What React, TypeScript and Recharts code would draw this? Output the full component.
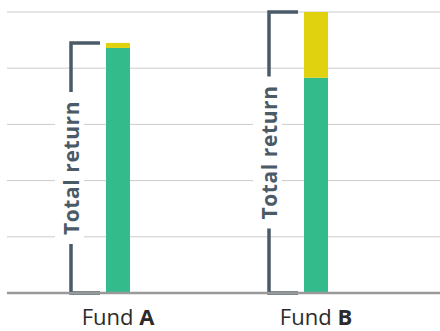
import { BarChart, Bar, XAxis, YAxis, CartesianGrid, ReferenceLine } from 'recharts'

const funds = ['Fund A', 'Fund B']
const fundLetters = ['A', 'B']
const baseReturn = [4.36, 3.83]
const extraReturn = [0.09, 1.17]
const yTicks = [0, 1, 2, 3, 4, 5]
const bracketLabel = 'Total return'

const data = funds.map((fund, i) => ({
  fund,
  base: baseReturn[i],
  extra: extraReturn[i],
  total: baseReturn[i] + extraReturn[i],
}))

const SLATE = '#4a5b67'
const FONT = '"Open Sans", sans-serif'

// bracket drawn to the left of the bar, from the baseline up to the total
function Bracket(props: any) {
  const { x1, y1, y2 } = props
  const top = Math.min(y1, y2)
  const bottom = Math.max(y1, y2)
  const lx = x1 - 47
  const arm = x1 - 18
  const cy = (top + bottom) / 2
  const gap = 76
  return (
    <g>
      <rect x={lx - 16} y={cy - 70} width={29} height={140} fill="#fff" />
      <path
        d={`M${arm},${top} H${lx} V${cy - gap}`}
        stroke={SLATE}
        strokeWidth={3.5}
        fill="none"
        strokeLinejoin="miter"
      />
      <path
        d={`M${arm},${bottom} H${lx} V${cy + gap}`}
        stroke={SLATE}
        strokeWidth={3.5}
        fill="none"
        strokeLinejoin="miter"
      />
      <text
        transform={`translate(${lx},${cy}) rotate(-90)`}
        textAnchor="middle"
        dy="0.36em"
        fontSize={21}
        fontWeight={700}
        letterSpacing={0.6}
        fill={SLATE}
        fontFamily={FONT}
      >
        {bracketLabel}
      </text>
    </g>
  )
}

function FundTick({ x, y, payload }: any) {
  const i = funds.indexOf(payload.value)
  return (
    <text x={x} y={y} dy={24} textAnchor="middle" fontSize={22} fill="#2b2b2b" fontFamily={FONT}>
      Fund{' '}
      <tspan fontWeight={700}>{fundLetters[i]}</tspan>
    </text>
  )
}

export default function App() {
  return (
    <div style={{ width: 440, height: 331 }}>
      <style>{'body{margin:0}'}</style>
      <BarChart width={440} height={331} data={data} margin={{ top: 12, right: 0, bottom: 0, left: 7 }}>
        <CartesianGrid vertical={false} stroke="#cccccc" />
        <XAxis
          dataKey="fund"
          height={38}
          padding={{ left: 12, right: 25 }}
          tickLine={false}
          axisLine={{ stroke: '#999999', strokeWidth: 2.5 }}
          tick={<FundTick />}
          interval={0}
        />
        <YAxis hide domain={[0, 5]} ticks={yTicks} />
        <Bar dataKey="base" stackId="r" fill="#33bb8c" barSize={24} isAnimationActive={false} />
        <Bar dataKey="extra" stackId="r" fill="#e0d20f" barSize={24} isAnimationActive={false} />
        {data.map(d => (
          <ReferenceLine
            key={d.fund}
            segment={[{ x: d.fund, y: 0 }, { x: d.fund, y: d.total }]}
            shape={<Bracket />}
            ifOverflow="visible"
          />
        ))}
      </BarChart>
    </div>
  )
}
